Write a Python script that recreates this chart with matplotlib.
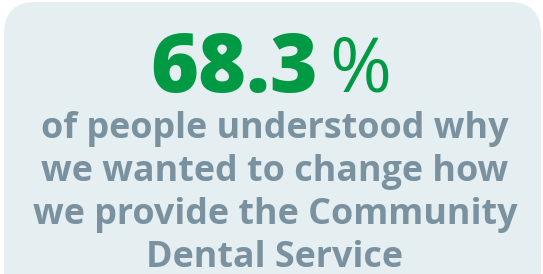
import matplotlib
matplotlib.use("Agg")
import matplotlib.pyplot as plt
from matplotlib.patches import FancyBboxPatch

value_text = "68.3"
unit_text = "%"
caption_lines = ["of people understood why",
                 "we wanted to change how",
                 "we provide the Community",
                 "Dental Service"]

W, H = 543, 274
fig = plt.figure(figsize=(W/100, H/100), dpi=100)
ax = fig.add_axes([0, 0, 1, 1])
ax.set_xlim(0, W)
ax.set_ylim(H, 0)
ax.axis("off")

box = FancyBboxPatch((4, 2), 537, 300, boxstyle="round,pad=0,rounding_size=32",
                     fc="#E5EEF0", ec="none")
ax.add_patch(box)

green = "#009A44"
grey = "#7A929F"
ax.text(234, 92, value_text, ha="center", va="baseline", fontsize=59,
        fontweight="heavy", family="Open Sans", color=green)
ax.text(360, 92, unit_text, ha="center", va="baseline", fontsize=54,
        fontweight="normal", family="Open Sans", color=green)

baselines = [138, 181, 224, 267]
for line, yb in zip(caption_lines, baselines):
    ax.text(275, yb, line, ha="center", va="baseline", fontsize=25.8,
            fontweight="bold", family="Open Sans", color=grey)

fig.savefig("out.png", dpi=100)
